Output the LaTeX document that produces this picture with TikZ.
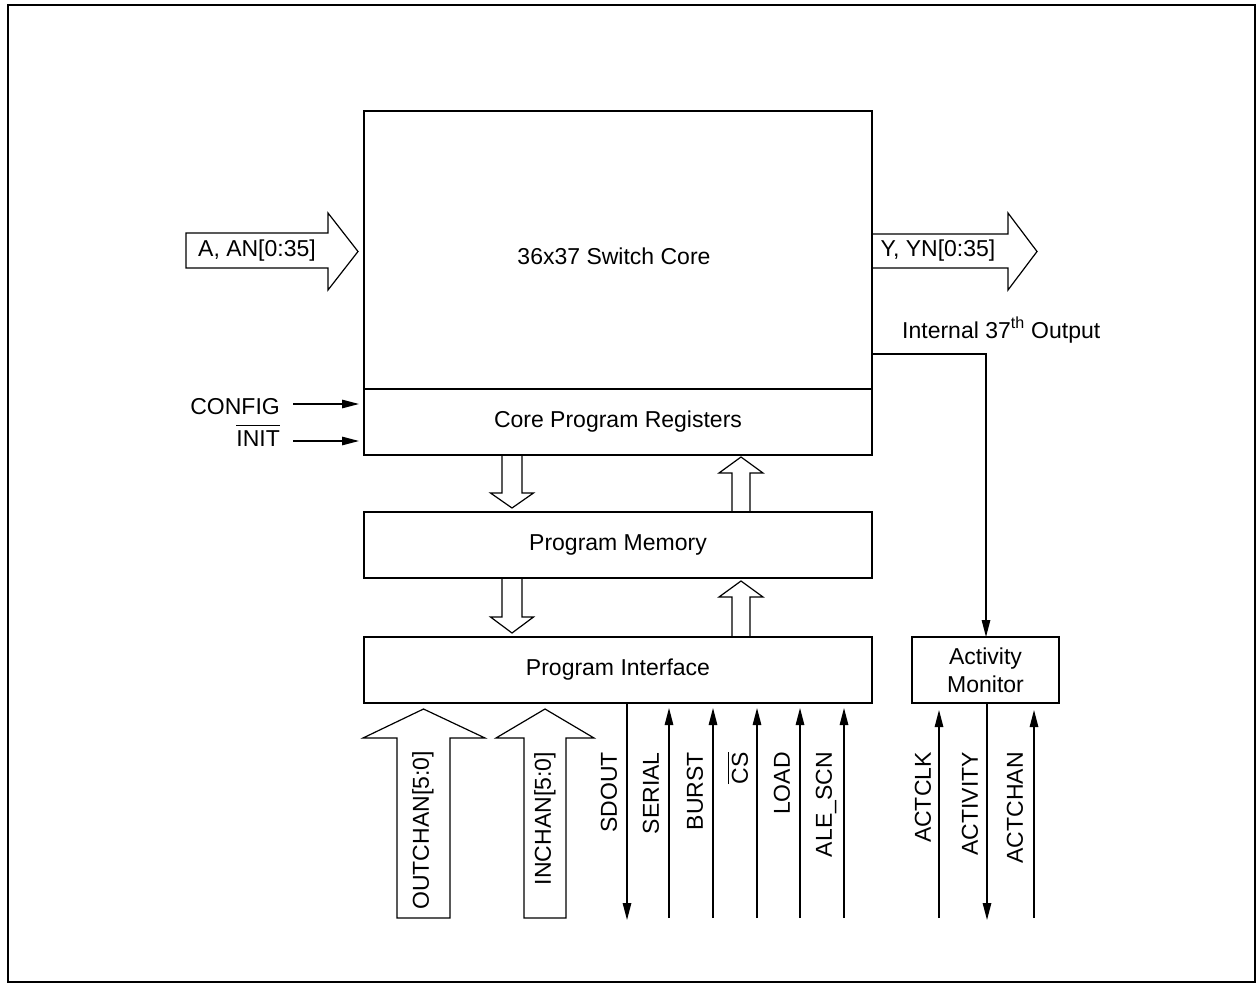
\documentclass[tikz,border=0pt]{standalone}
\usepackage{fontspec}
\setmainfont{Liberation Sans}
\usetikzlibrary{arrows.meta,calc}
\newcommand{\ovl}[2][4pt]{\vbox{\hrule height 1.1pt\kern #1\hbox{#2}}}
\begin{document}
\begin{tikzpicture}[x=1pt,y=-1pt,
  font=\fontsize{23}{28}\selectfont,
  blk/.style={draw, line width=2.9pt, inner sep=0pt, outer sep=0pt},
  sig/.style={line width=1.3pt, -{Triangle[length=17pt,width=8.5pt]}},
  hol/.style={draw, line width=1.2pt, line join=miter},
  lbl/.style={rotate=90, anchor=east, inner sep=0pt},
  txt/.style={inner sep=0pt}
]
\useasboundingbox (0,0) rectangle (1257,984);
\draw[line width=2.3pt] (8,5) rectangle (1255,982);

% blocks
\node[blk, minimum width=508pt, minimum height=278pt] (core) at (618,250) {};
\node[txt] (coretxt) at (614,256) {36x37 Switch Core};
\node[blk, minimum width=508pt, minimum height=66pt] (regs) at (618,422) {Core Program Registers};
\node[blk, minimum width=508pt, minimum height=66pt] (mem) at (618,545) {Program Memory};
\node[blk, minimum width=508pt, minimum height=66pt] (pif) at (618,670) {Program Interface};
\node[blk, minimum width=147pt, minimum height=66pt, align=center] (act) at (985.5,670) {Activity\\Monitor};

% big input / output bus arrows
\draw[hol] (328,233) -- (186,233) -- (186,268) -- (328,268) -- (328,290) -- (358,251.5) -- (328,213) -- cycle;
\node[txt] (ain) at (257,251) {A, AN[0:35]};
\draw[hol] (core.east |- 0,234) -- (1008,234) -- (1008,213) -- (1037,251.5) -- (1008,290) -- (1008,268) -- (core.east |- 0,268);
\node[txt] (yout) at (938,251) {Y, YN[0:35]};

% hollow arrows between blocks
\draw[hol] (502,455) -- (502,493) -- (490.5,493) -- (512,508) -- (533.5,493) -- (522,493) -- (522,455);
\draw[hol] (732,512) -- (732,473) -- (719,473) -- (741,457) -- (763,473) -- (750,473) -- (750,512);
\draw[hol] (502,578) -- (502,617) -- (490.5,617) -- (512,633) -- (533.5,617) -- (522,617) -- (522,578);
\draw[hol] (732,637) -- (732,597) -- (719,597) -- (741,581) -- (763,597) -- (750,597) -- (750,637);

% CONFIG / INIT
\node[txt, anchor=base east] (cfg) at (280,414) {CONFIG};
\node[txt, anchor=base east] (ini) at (280,446) {\ovl{INIT}};
\coordinate (cfgs) at (293,404);
\coordinate (inis) at (293,441);
\draw[sig, shorten >=5pt] (cfgs) -- (cfgs -| regs.west);
\draw[sig, shorten >=5pt] (inis) -- (inis -| regs.west);

% internal 37th output
\node[txt, anchor=base west] (intl) at (902,338) {Internal 37\textsuperscript{th} Output};
\coordinate (ic) at (986,354);
\draw[sig] (ic -| core.east) -- (ic) -- (ic |- act.north);

% OUTCHAN / INCHAN
\draw[hol] (397,918) -- (397,738) -- (363,738) -- (423.5,709) -- (485,738) -- (450,738) -- (450,918) -- cycle;
\node[lbl] (och) at (423,751) {OUTCHAN[5:0]};
\draw[hol] (524,918) -- (524,738) -- (496,738) -- (545,709) -- (594,738) -- (566,738) -- (566,918) -- cycle;
\node[lbl] (ich) at (545,752) {INCHAN[5:0]};

% program interface signals
\coordinate (sdo) at (627,920);
\coordinate (ser) at (669,918);
\coordinate (bur) at (713,918);
\coordinate (cs)  at (757,918);
\coordinate (lod) at (800,918);
\coordinate (ale) at (844,918);
\draw[sig] (sdo |- pif.south) -- (sdo);
\draw[sig, shorten >=5pt] (ser) -- (ser |- pif.south);
\draw[sig, shorten >=5pt] (bur) -- (bur |- pif.south);
\draw[sig, shorten >=5pt] (cs) -- (cs |- pif.south);
\draw[sig, shorten >=5pt] (lod) -- (lod |- pif.south);
\draw[sig, shorten >=5pt] (ale) -- (ale |- pif.south);
\node[lbl] (lsdo) at (609,752) {SDOUT};
\node[lbl] (lser) at (651,752) {SERIAL};
\node[lbl] (lbur) at (695,752) {BURST};
\node[lbl] (lcs)  at (738,752) {\ovl[3pt]{CS}};
\node[lbl] (llod) at (782,752) {LOAD};
\node[lbl] (lale) at (826,752) {ALE\_SCN};

% activity monitor signals
\coordinate (aclk) at (939,918);
\coordinate (aact) at (987,920);
\coordinate (achn) at (1034,918);
\draw[sig, shorten >=7pt] (aclk) -- (aclk |- act.south);
\draw[sig] (aact |- act.south) -- (aact);
\draw[sig, shorten >=7pt] (achn) -- (achn |- act.south);
\node[lbl] (lclk) at (923,752) {ACTCLK};
\node[lbl] (lact) at (970,752) {ACTIVITY};
\node[lbl] (lchn) at (1015,752) {ACTCHAN};
\end{tikzpicture}
\end{document}
